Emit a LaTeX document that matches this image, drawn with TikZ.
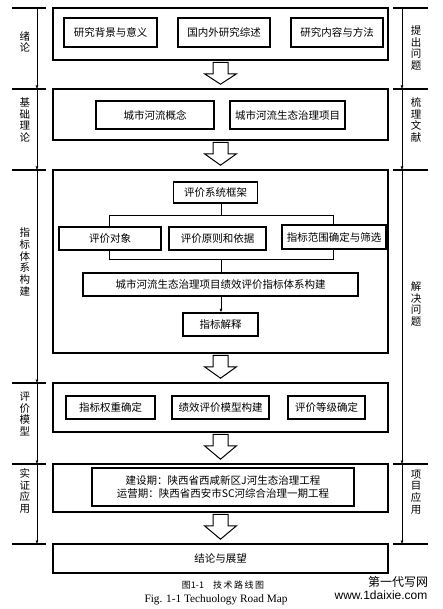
\documentclass[tikz,border=0pt]{standalone}
\usepackage{fontspec}
\setmainfont{Liberation Serif}
\newfontfamily\cjk{Noto Sans CJK SC}
\newfontfamily\wmfont{Liberation Sans}
\usetikzlibrary{arrows.meta, calc}

\tikzset{
  stagebox/.style={draw, line width=1.6pt, inner sep=0pt},
  itembox/.style={draw, line width=1.3pt, fill=white, inner sep=0pt,
    font=\cjk\fontsize{10.5}{13}\selectfont},
  sidelabel/.style={font=\cjk\fontsize{10.5}{11.8}\selectfont, align=center, inner sep=0pt},
  sidetick/.style={line width=1.5pt},
  sideline/.style={line width=0.6pt, -{Latex[length=3.5pt,width=3pt]}},
  hollow/.style={draw, line width=1pt, fill=white},
}

% hollow block arrow between two stage boxes
\newcommand{\hollowarrow}[2]{%
  \draw[hollow] let \p1=(#1.south), \p2=(#2.north) in
    (\x1-7.5pt,\y1-1.5pt) -- (\x1-7.5pt,\y1-13pt) -- (\x1-16pt,\y1-13pt)
    -- (\x1,\y2+4pt) -- (\x1+16pt,\y1-13pt) -- (\x1+7.5pt,\y1-13pt)
    -- (\x1+7.5pt,\y1-1.5pt) -- cycle;}

\begin{document}
\begin{tikzpicture}[x=1pt, y=-1pt]
\useasboundingbox (0,0) rectangle (442,609);

% stages
\node[stagebox, minimum width=335pt, minimum height=52pt] (intro) at (220.5,34) {};
\node[stagebox, minimum width=335pt, minimum height=51pt] (theory) at (220.5,114.5) {};
\node[stagebox, minimum width=335pt, minimum height=183pt] (system) at (220.5,261.5) {};
\node[stagebox, minimum width=335pt, minimum height=49pt] (model) at (220.5,407.5) {};
\node[stagebox, minimum width=335pt, minimum height=48pt] (apply) at (220.5,488) {};
\node[stagebox, minimum width=335pt, minimum height=29pt,
  font=\cjk\fontsize{10.5}{13}\selectfont] (concl) at (220.5,558.5) {结论与展望};

% intro
\node[itembox, minimum width=93pt, minimum height=29pt] (bg) at (110.5,32.5) {研究背景与意义};
\node[itembox, minimum width=92pt, minimum height=29pt] (review) at (224,32.5) {国内外研究综述};
\node[itembox, minimum width=92pt, minimum height=29pt] (method) at (337,32.5) {研究内容与方法};

% theory
\node[itembox, minimum width=118pt, minimum height=28pt] (concept) at (155,115) {城市河流概念};
\node[itembox, minimum width=115pt, minimum height=28pt] (project) at (287.5,115) {城市河流生态治理项目};

% index system
\node[itembox, minimum width=84pt, minimum height=21pt] (frame) at (215.5,192.5) {评价系统框架};
\node[draw, line width=1pt, minimum width=224pt, minimum height=43pt] (brk) at (221,237.5) {};
\node[itembox, minimum width=102pt, minimum height=23pt] (object) at (110,238.5) {评价对象};
\node[itembox, minimum width=97pt, minimum height=23pt] (basis) at (217.5,238.5) {评价原则和依据};
\node[itembox, minimum width=104pt, minimum height=24pt] (scope) at (334,237) {指标范围确定与筛选};
\node[itembox, minimum width=275pt, minimum height=23pt] (build) at (220.5,284.5) {城市河流生态治理项目绩效评价指标体系构建};
\node[itembox, minimum width=75pt, minimum height=23pt] (explain) at (220.5,324.5) {指标解释};

\draw[line width=1pt] (brk.north) -- (brk.north |- frame.south);
\draw[line width=1pt] (brk.south) -- (brk.south |- build.north);
\draw[line width=0.8pt, -{Latex[length=3.5pt,width=3pt]}] (build.south -| brk.south) -- (explain.north -| brk.south);

% model
\node[itembox, minimum width=89pt, minimum height=23pt] (weight) at (110.5,407.5) {指标权重确定};
\node[itembox, minimum width=97pt, minimum height=23pt] (perf) at (220.5,407.5) {绩效评价模型构建};
\node[itembox, minimum width=77pt, minimum height=23pt] (grade) at (326.5,407.5) {评价等级确定};

% application
\node[itembox, minimum width=262pt, minimum height=38pt, align=center] (case) at (223,487)
  {建设期：陕西省西咸新区J河生态治理工程\\运营期：陕西省西安市SC河综合治理一期工程};

% flow
\hollowarrow{intro}{theory}
\hollowarrow{theory}{system}
\hollowarrow{system}{model}
\hollowarrow{model}{apply}
\hollowarrow{apply}{concl}

% left side
\coordinate (la) at (37,8);
\coordinate (lb) at (37,89);
\coordinate (lc) at (37,170);
\coordinate (ld) at (37,383);
\coordinate (le) at (37,464);
\coordinate (lf) at (37,544);
\draw[sidetick] (12,8) -- (46,8);
\draw[sidetick] (12,89) -- (46,89);
\draw[sidetick] (12,170) -- (46,170);
\draw[sidetick] (12,383) -- (46,383);
\draw[sidetick] (12,464) -- (46,464);
\draw[sidetick] (12,544) -- (46,544);
\draw[sideline] (la) -- (lb);
\draw[sideline] (lb) -- (lc);
\draw[sideline] (lc) -- (ld);
\draw[sideline] (ld) -- (le);
\draw[sideline] (le) -- (lf);
\node[sidelabel] (s1) at (25,42) {绪\\论};
\node[sidelabel] (s2) at (25,120) {基\\础\\理\\论};
\node[sidelabel] (s3) at (25,262) {指\\标\\体\\系\\构\\建};
\node[sidelabel] (s4) at (25,414) {评\\价\\模\\型};
\node[sidelabel] (s5) at (25,491) {实\\证\\应\\用};

% right side
\coordinate (ra) at (402,8);
\coordinate (rb) at (402,89);
\coordinate (rc) at (402,170);
\coordinate (rd) at (402,464);
\coordinate (re) at (402,544);
\draw[sidetick] (393,8) -- (428,8);
\draw[sidetick] (393,89) -- (428,89);
\draw[sidetick] (393,170) -- (428,170);
\draw[sidetick] (393,464) -- (428,464);
\draw[sidetick] (393,544) -- (428,544);
\draw[sideline] (ra) -- (rb);
\draw[sideline] (rb) -- (rc);
\draw[sideline] (rc) -- (rd);
\draw[sideline] (rd) -- (re);
\node[sidelabel] (q1) at (416,48) {提\\出\\问\\题};
\node[sidelabel] (q2) at (416,120) {梳\\理\\文\\献};
\node[sidelabel] (q3) at (416,304) {解\\决\\问\\题};
\node[sidelabel] (q4) at (416,492) {项\\目\\应\\用};

% caption
\node[font=\cjk\fontsize{9}{11}\selectfont, inner sep=0pt] (capcn) at (223,585) {图1-1\quad 技\,术\,路\,线\,图};
\node[font=\fontsize{11.3}{13}\selectfont, inner sep=0pt] (capen) at (216,600) {Fig. 1-1 Techuology Road Map};
\node[font=\cjk\fontsize{12}{14}\selectfont, inner sep=0pt] (wm1) at (398,582) {第一代写网};
\node[font=\wmfont\fontsize{12}{14}\selectfont, inner sep=0pt] (wm2) at (381,595) {www.1daixie.com};
\end{tikzpicture}
\end{document}
